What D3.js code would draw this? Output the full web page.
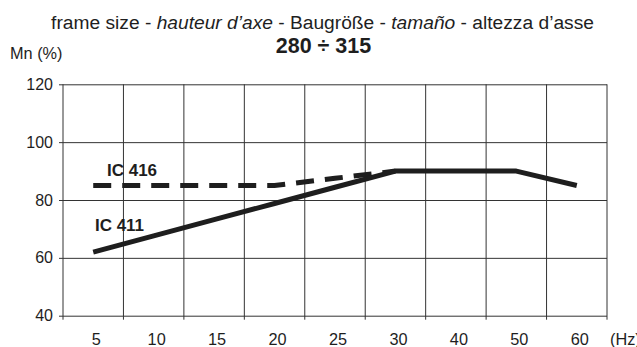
<!DOCTYPE html>
<html>
<head>
<meta charset="utf-8">
<script src="https://cdn.jsdelivr.net/npm/d3@7/dist/d3.min.js"></script>
<style>
  html, body { margin: 0; padding: 0; background: #fff; }
  svg { display: block; font-family: "Liberation Sans", Arial, Helvetica, sans-serif; }
</style>
</head>
<body>
<svg id="chart" width="637" height="347"></svg>
<script>
// Frequency categories (Hz), evenly spaced on the axis
const freqs = ["5", "10", "15", "20", "25", "30", "40", "50", "60"];
// Torque Mn (%) per frequency
const ic411 = [62, 67.6, 73.2, 78.8, 84.4, 90, 90, 90, 85];
const ic416 = [85, 85, 85, 85, 87.5, 90];
const yTicks = [40, 60, 80, 100, 120];

(function () {
  const svg = d3.select("#chart");
  const plotL = 63, plotR = 607, plotT = 84.3, plotB = 315.7;

  const x = d3.scaleBand().domain(freqs).range([plotL, plotR]).padding(0);
  const y = d3.scaleLinear().domain([40, 120]).range([plotB, plotT]);
  const cx = d => x(d) + x.bandwidth() / 2;

  const ink = "#1e1e1e";
  const fam = "Liberation Sans, Arial, sans-serif";

  // Titles
  svg.append("text")
    .attr("x", 322.5).attr("y", 29).attr("text-anchor", "middle")
    .attr("font-size", 19.2).attr("fill", ink)
    .call(t => {
      t.append("tspan").text("frame size - ");
      t.append("tspan").attr("font-style", "italic").text("hauteur d\u2019axe");
      t.append("tspan").text(" - Baugr\u00f6\u00dfe - ");
      t.append("tspan").attr("font-style", "italic").text("tama\u00f1o");
      t.append("tspan").text(" - altezza d\u2019asse");
    });
  svg.append("text")
    .attr("x", 323.5).attr("y", 53).attr("text-anchor", "middle")
    .attr("font-size", 21.5).attr("font-weight", "bold").attr("fill", ink)
    .text("280 \u00f7 315");
  svg.append("text")
    .attr("x", 10).attr("y", 59).attr("font-size", 16.3).attr("fill", ink)
    .text("Mn (%)");

  // Horizontal grid + y axis
  const yAxis = d3.axisLeft(y).tickValues(yTicks).tickSize(-(plotR - plotL)).tickSizeOuter(0);
  const gy = svg.append("g").attr("transform", `translate(${plotL},0)`).call(yAxis);
  gy.select(".domain").remove();
  gy.selectAll(".tick line").attr("x1", -4).attr("stroke", "#333").attr("stroke-width", 1);
  gy.selectAll(".tick text").attr("x", -10).attr("font-size", 16).attr("fill", ink)
    .attr("font-family", fam);

  // Vertical grid lines at band edges, with ticks below the axis
  const edges = freqs.map(d => x(d)).concat([plotR]);
  svg.append("g").selectAll("line").data(edges).join("line")
    .attr("x1", d => d).attr("x2", d => d)
    .attr("y1", plotT).attr("y2", plotB + 4)
    .attr("stroke", "#333").attr("stroke-width", 1);

  // X labels at band centres
  const xAxis = d3.axisBottom(x).tickSize(0).tickPadding(0);
  const gx = svg.append("g").attr("transform", `translate(3,${plotB})`).call(xAxis);
  gx.select(".domain").remove();
  gx.selectAll(".tick text").attr("dy", 0).attr("y", 29).attr("font-size", 16.3).attr("fill", ink)
    .attr("font-family", fam);
  svg.append("text").attr("x", 610).attr("y", 345).attr("font-size", 16.3).attr("fill", ink).text("(Hz)");

  // Curves
  const line = d3.line().x((d, i) => cx(freqs[i])).y(d => y(d));
  svg.append("path").datum(ic416).attr("d", line)
    .attr("fill", "none").attr("stroke", ink).attr("stroke-width", 5)
    .attr("stroke-dasharray", "18 11");
  svg.append("path").datum(ic411).attr("d", line)
    .attr("fill", "none").attr("stroke", ink).attr("stroke-width", 5)
    .attr("stroke-linejoin", "round");

  // Curve labels
  svg.append("text").attr("x", 132).attr("y", 176).attr("text-anchor", "middle")
    .attr("font-size", 17).attr("font-weight", "bold").attr("fill", ink).text("IC 416");
  svg.append("text").attr("x", 119.5).attr("y", 231).attr("text-anchor", "middle")
    .attr("font-size", 17).attr("font-weight", "bold").attr("fill", ink).text("IC 411");
})();
</script>
</body>
</html>
